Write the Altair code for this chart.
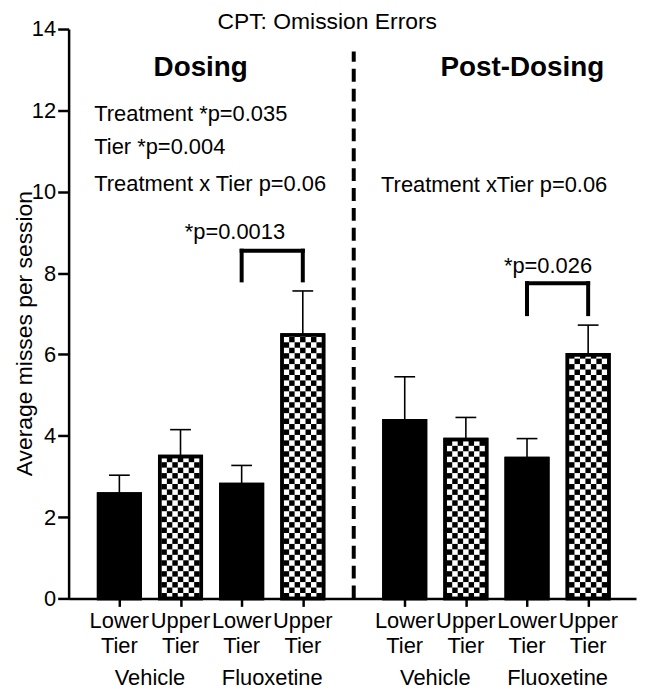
import altair as alt
import pandas as pd

# ---------------- data ----------------
positions = [1, 2, 3, 4, 5.667, 6.667, 7.667, 8.667]
tiers = ["Lower", "Upper", "Lower", "Upper", "Lower", "Upper", "Lower", "Upper"]
treatments = ["Vehicle", "Vehicle", "Fluoxetine", "Fluoxetine",
              "Vehicle", "Vehicle", "Fluoxetine", "Fluoxetine"]
phases = ["Dosing"] * 4 + ["Post-Dosing"] * 4
means = [2.57, 3.49, 2.80, 6.48, 4.37, 3.91, 3.44, 5.99]
sems = [0.46, 0.66, 0.47, 1.08, 1.08, 0.54, 0.49, 0.73]

phase_labels = ["Dosing", "Post-Dosing"]
phase_label_x = [2.33, 7.59]

group_labels = ["Vehicle", "Fluoxetine", "Vehicle", "Fluoxetine"]
group_label_x = [1.5, 3.5, 6.167, 8.167]

stats_text = ["Treatment *p=0.035", "Tier *p=0.004", "Treatment x Tier p=0.06",
              "Treatment xTier p=0.06"]
stats_x = [0.59, 0.59, 0.59, 5.28]
stats_y = [11.73, 10.92, 10.02, 9.99]

sig_text = ["*p=0.0013", "*p=0.026"]
sig_x = [2.89, 8.01]
sig_y = [8.84, 7.99]
bracket_left = [3, 7.667]
bracket_right = [4, 8.667]
bracket_top = [8.55, 7.75]
bracket_bottom = [7.82, 6.99]

separator_x = 4.833
separator_top = 13.45

title_text = "CPT: Omission Errors"
y_ticks = [0, 2, 4, 6, 8, 10, 12, 14]

# ---------------- tables ----------------
HALF = 0.34          # half bar width (x units)
CAP = 0.17           # half error-cap width
bars = pd.DataFrame({
    "pos": positions, "tier": tiers, "treatment": treatments, "phase": phases,
    "mean": means, "sem": sems,
})
bars["x1"] = bars["pos"] - HALF
bars["x2"] = bars["pos"] + HALF
bars["top"] = bars["mean"] + bars["sem"]
bars["c1"] = bars["pos"] - CAP
bars["c2"] = bars["pos"] + CAP
bars["zero"] = 0.0
bars["fillc"] = ["black" if t == "Lower" else "white" for t in tiers]

# checkerboard cells for the Upper Tier bars (pattern fill)
NC = 7
inner = 0.3125
cw = 2 * inner / NC
ch = 0.134
cells = []
for p, t, m in zip(positions, tiers, means):
    if t != "Upper":
        continue
    r = 0
    while r * ch < m:
        for c in range(NC):
            if (r + c) % 2 == 0:
                cells.append({"cx1": p - inner + c * cw, "cx2": p - inner + (c + 1) * cw,
                              "cy1": r * ch, "cy2": min((r + 1) * ch, m)})
        r += 1
cells = pd.DataFrame(cells)

ticklab = pd.DataFrame({"pos": positions, "tier": tiers,
                        "y1": [-0.733] * 8, "y2": [-1.344] * 8})
groups = pd.DataFrame({"x": group_label_x, "label": group_labels, "y": [-2.12] * 4})
phase_df = pd.DataFrame({"x": phase_label_x, "label": phase_labels, "y": [12.85] * 2})
stats_df = pd.DataFrame({"x": stats_x, "y": stats_y, "label": stats_text})
sig_df = pd.DataFrame({"x": sig_x, "y": sig_y, "label": sig_text})
br = pd.DataFrame({"l": bracket_left, "r": bracket_right, "t": bracket_top, "b": bracket_bottom})
sep = pd.DataFrame({"x": [separator_x], "y1": [0.0], "y2": [separator_top]})
title_df = pd.DataFrame({"x": [4.40], "y": [14.0], "label": [title_text]})

FONT = "Liberation Sans"
xs = alt.Scale(domain=[0.17, 9.45], nice=False, zero=False)
ys = alt.Scale(domain=[0, 14], nice=False)

X = alt.X("x1:Q", scale=xs,
          axis=alt.Axis(values=positions, labels=False, title=None, grid=False,
                        tickSize=8, tickWidth=2.5, tickColor="black",
                        domainWidth=2.5, domainColor="black"))
Y = alt.Y("zero:Q", scale=ys,
          axis=alt.Axis(values=y_ticks, grid=False, title="Average misses per session",
                        titleFontSize=23, titleFontWeight="normal", titleColor="black",
                        titleFont=FONT, titleX=-37, titleY=306, titleAngle=-90,
                        titleBaseline="alphabetic",
                        labelFontSize=22, labelFont=FONT, labelColor="black",
                        labelPadding=2, tickSize=11, tickWidth=2.5, tickColor="black",
                        domainWidth=2.5, domainColor="black"))

base_bars = alt.Chart(bars).mark_rect(stroke="black", strokeWidth=3.5).encode(
    x=X, x2="x2:Q", y=Y, y2="mean:Q",
    fill=alt.Fill("fillc:N", scale=None),
)

checker = alt.Chart(cells).mark_rect(color="black").encode(
    x=alt.X("cx1:Q", scale=xs), x2="cx2:Q",
    y=alt.Y("cy1:Q", scale=ys), y2="cy2:Q",
)

outline = alt.Chart(bars).mark_rect(fillOpacity=0, stroke="black", strokeWidth=3.5).encode(
    x=alt.X("x1:Q", scale=xs), x2="x2:Q", y=alt.Y("zero:Q", scale=ys), y2="mean:Q",
)

err_v = alt.Chart(bars).mark_rule(color="black", strokeWidth=1.6).encode(
    x=alt.X("pos:Q", scale=xs), y=alt.Y("mean:Q", scale=ys), y2="top:Q")
err_cap = alt.Chart(bars).mark_rule(color="black", strokeWidth=1.6).encode(
    x=alt.X("c1:Q", scale=xs), x2="c2:Q", y=alt.Y("top:Q", scale=ys))

sep_line = alt.Chart(sep).mark_rule(color="black", strokeWidth=4, strokeDash=[13, 7]).encode(
    x=alt.X("x:Q", scale=xs), y=alt.Y("y1:Q", scale=ys), y2="y2:Q")

br_top = alt.Chart(br).mark_rule(color="black", strokeWidth=4, strokeCap="square").encode(
    x=alt.X("l:Q", scale=xs), x2="r:Q", y=alt.Y("t:Q", scale=ys))
br_l = alt.Chart(br).mark_rule(color="black", strokeWidth=4, strokeCap="square").encode(
    x=alt.X("l:Q", scale=xs), y=alt.Y("b:Q", scale=ys), y2="t:Q")
br_r = alt.Chart(br).mark_rule(color="black", strokeWidth=4, strokeCap="square").encode(
    x=alt.X("r:Q", scale=xs), y=alt.Y("b:Q", scale=ys), y2="t:Q")


def txt(df, size, align="center", weight="normal", xf="x", yf="y", tf="label"):
    return alt.Chart(df).mark_text(fontSize=size, font=FONT, align=align, baseline="alphabetic",
                                   fontWeight=weight, color="black").encode(
        x=alt.X(f"{xf}:Q", scale=xs), y=alt.Y(f"{yf}:Q", scale=ys), text=f"{tf}:N")


ticklab2 = ticklab.assign(t2="Tier")
layers = [
    base_bars, checker, outline, err_v, err_cap, sep_line, br_top, br_l, br_r,
    txt(title_df, 23),
    txt(phase_df, 28, weight="bold"),
    txt(stats_df, 22, align="left"),
    txt(sig_df, 22),
    txt(ticklab, 22, xf="pos", yf="y1", tf="tier"),
    txt(ticklab2, 22, xf="pos", yf="y2", tf="t2"),
    txt(groups, 22),
]

chart = alt.layer(*layers).properties(
    width=571, height=573,
    autosize=alt.AutoSizeParams(type="none"),
    padding={"left": 61, "top": 19, "right": 5, "bottom": 92},
).configure(font=FONT, view=alt.ViewConfig(stroke=None))

chart.save("out.html", embed_options={"renderer": "svg", "actions": False})
